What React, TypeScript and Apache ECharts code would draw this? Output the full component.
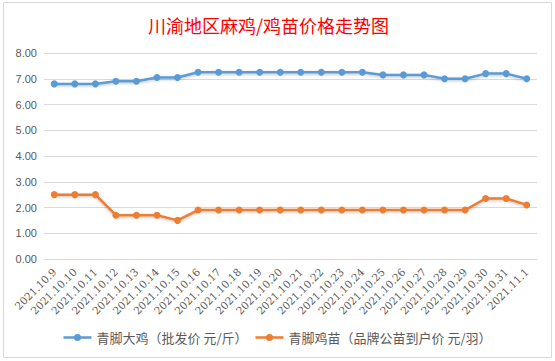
import React, { useEffect, useRef } from "react";
import * as echarts from "echarts";

const categories = [
  "2021.10.9", "2021.10.10", "2021.10.11", "2021.10.12", "2021.10.13", "2021.10.14",
  "2021.10.15", "2021.10.16", "2021.10.17", "2021.10.18", "2021.10.19", "2021.10.20",
  "2021.10.21", "2021.10.22", "2021.10.23", "2021.10.24", "2021.10.25", "2021.10.26",
  "2021.10.27", "2021.10.28", "2021.10.29", "2021.10.30", "2021.10.31", "2021.11.1",
];
const broilerName = "青脚大鸡（批发价 元/斤）";
const broilerValues = [
  6.8, 6.8, 6.8, 6.9, 6.9, 7.05, 7.05, 7.25, 7.25, 7.25, 7.25, 7.25,
  7.25, 7.25, 7.25, 7.25, 7.15, 7.15, 7.15, 7.0, 7.0, 7.2, 7.2, 7.0,
];
const chickName = "青脚鸡苗（品牌公苗到户价 元/羽）";
const chickValues = [
  2.5, 2.5, 2.5, 1.7, 1.7, 1.7, 1.5, 1.9, 1.9, 1.9, 1.9, 1.9,
  1.9, 1.9, 1.9, 1.9, 1.9, 1.9, 1.9, 1.9, 1.9, 2.35, 2.35, 2.1,
];
const titleText = "川渝地区麻鸡/鸡苗价格走势图";

const legendIcon = "path://M0,2.8 L28,2.8 L28,5.2 L0,5.2 Z M14,0.5 A3.5,3.5 0 1,1 14,7.5 A3.5,3.5 0 1,1 14,0.5 Z";

export default function App() {
  const ref = useRef<HTMLDivElement>(null);
  useEffect(() => {
    if (!ref.current) return;
    const chart = echarts.init(ref.current, undefined, { renderer: "svg" });
    const mkSeries = (name: string, data: number[], color: string) => ({
      name,
      type: "line",
      data,
      symbol: "circle",
      symbolSize: 7,
      showSymbol: true,
      lineStyle: { width: 2.5, color, shadowColor: "rgba(0,0,0,0.25)", shadowBlur: 3, shadowOffsetY: 1 },
      itemStyle: { color },
    });
    chart.setOption({
      animation: false,
      backgroundColor: "#ffffff",
      title: {
        text: titleText,
        left: 143,
        top: 11,
        textStyle: { color: "#FF0000", fontSize: 18, fontWeight: "normal", fontFamily: "Noto Sans CJK SC" },
      },
      graphic: [
        {
          type: "rect",
          shape: { x: 3.5, y: 2.5, width: 548, height: 355 },
          style: { fill: "none", stroke: "#d9d9d9", lineWidth: 1 },
          silent: true,
        },
      ],
      legend: {
        bottom: 12,
        left: "center",
        itemWidth: 28,
        itemHeight: 8,
        itemGap: 8,
        textStyle: { color: "#595959", fontSize: 13, fontFamily: "Noto Sans CJK SC" },
        data: [
          { name: broilerName, icon: legendIcon },
          { name: chickName, icon: legendIcon },
        ],
      },
      grid: { left: 44, right: 18, top: 53, bottom: 102, containLabel: false },
      xAxis: {
        type: "category",
        data: categories,
        boundaryGap: true,
        axisLine: { lineStyle: { color: "#d9d9d9" } },
        axisTick: { show: false },
        axisLabel: {
          rotate: 45,
          interval: 0,
          color: "#595959",
          fontSize: 10.5,
          fontFamily: "DejaVu Serif",
          margin: 11,
        },
      },
      yAxis: {
        type: "value",
        min: 0,
        max: 8,
        interval: 1,
        axisLine: { show: false },
        axisTick: { show: false },
        splitLine: { lineStyle: { color: "#d9d9d9", width: 1 } },
        axisLabel: {
          color: "#595959",
          fontSize: 11,
          fontFamily: "Liberation Sans",
          margin: 7,
          formatter: (v: number) => v.toFixed(2),
        },
      },
      series: [
        mkSeries(broilerName, broilerValues, "#5B9BD5"),
        mkSeries(chickName, chickValues, "#ED7D31"),
      ],
    });
    return () => chart.dispose();
  }, []);
  return <div ref={ref} style={{ width: 555, height: 361, position: "absolute", left: 0, top: 0 }} />;
}
